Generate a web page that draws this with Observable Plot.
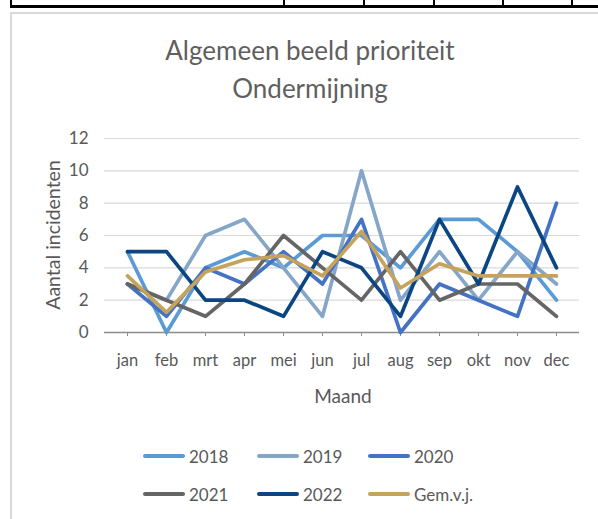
<!DOCTYPE html>
<html>
<head>
<meta charset="utf-8">
<script src="https://cdn.jsdelivr.net/npm/d3@7"></script>
<script src="https://cdn.jsdelivr.net/npm/@observablehq/plot@0.6"></script>
<style>
  html, body { margin: 0; padding: 0; background: #fff; }
  #page { position: relative; width: 598px; height: 519px; overflow: hidden; font-family: Lato, "Open Sans", sans-serif; color: #595959; }
  .blk { position: absolute; background: #000; }
  #box { position: absolute; left: 10px; top: 12px; width: 700px; height: 600px; border-left: 2px solid #d9d9d9; border-top: 2px solid #d9d9d9; box-sizing: border-box; }
  #title { position: absolute; left: 110px; width: 400px; top: 31px; text-align: center; font-size: 26px; line-height: 38px; color: #5f5f5f; font-weight: 400; }
  #ytitle { position: absolute; left: 52px; top: 235px; transform: translate(-50%, -50%) rotate(-90deg); font-size: 19.5px; white-space: nowrap; color: #595959; }
  #xtitle { position: absolute; left: 343px; top: 395px; transform: translate(-50%, -50%); font-size: 19px; color: #595959; }
  #chart { position: absolute; left: 0; top: 0; }
  #legend { position: absolute; left: 143px; top: 444px; display: grid; grid-template-columns: 114px 111px 120px; row-gap: 14px; }
  .item { display: flex; align-items: center; height: 24px; font-size: 17px; color: #595959; }
  .sw { width: 42px; height: 4px; border-radius: 2px; margin-right: 4px; }
</style>
</head>
<body>
<div id="page">
  <div class="blk" style="left:10px; top:5px; width:588px; height:3px;"></div>
  <div class="blk" style="left:10px; top:0px; width:2px; height:8px;"></div>
  <div class="blk" style="left:283px; top:0px; width:2px; height:8px;"></div>
  <div class="blk" style="left:363px; top:0px; width:2px; height:8px;"></div>
  <div class="blk" style="left:433px; top:0px; width:2px; height:8px;"></div>
  <div class="blk" style="left:502px; top:0px; width:2px; height:8px;"></div>
  <div class="blk" style="left:571px; top:0px; width:2px; height:8px;"></div>
  <div id="box"></div>
  <div id="title">Algemeen beeld prioriteit<br>Ondermijning</div>
  <div id="chart"></div>
  <div id="ytitle">Aantal incidenten</div>
  <div id="xtitle">Maand</div>
  <div id="legend"></div>
</div>
<script>
const months = ["jan","feb","mrt","apr","mei","jun","jul","aug","sep","okt","nov","dec"];
const seriesNames = ["2018","2019","2020","2021","2022","Gem.v.j."];
const v2018 = [5,0,4,5,4,6,6,4,7,7,5,2];
const v2019 = [3,2,6,7,4,1,10,2,5,2,5,3];
const v2020 = [3,1,4,3,5,3,7,0,3,2,1,8];
const v2021 = [3,2,1,3,6,4,2,5,2,3,3,1];
const v2022 = [5,5,2,2,1,5,4,1,7,3,9,4];
const vGem  = [3.5,1.25,3.75,4.5,4.75,3.5,6.25,2.75,4.25,3.5,3.5,3.5];
const yTicks = [0,2,4,6,8,10,12];
const seriesColors = ["#5B9BD5","#86A6C8","#4472C4","#656565","#0B4683","#C5A35C"];

const allValues = [v2018, v2019, v2020, v2021, v2022, vGem];
const data = [];
seriesNames.forEach((name, i) => {
  allValues[i].forEach((v, j) => data.push({series: name, month: months[j], value: v}));
});

const chart = Plot.plot({
  width: 598,
  height: 420,
  marginLeft: 104,
  marginRight: 19,
  marginTop: 138,
  marginBottom: 88,
  style: {fontFamily: "Lato, 'Open Sans', sans-serif", fontSize: "17px", color: "#595959", background: "transparent", overflow: "visible"},
  x: {type: "point", domain: months, padding: 0.5, label: null},
  y: {domain: [0, 12], label: null},
  color: {domain: seriesNames, range: seriesColors},
  marks: [
    Plot.gridY(yTicks, {stroke: "#d9d9d9", strokeOpacity: 1, strokeWidth: 1.2}),
    Plot.axisY(yTicks, {tickSize: 0, tickPadding: 16, fontSize: 17, label: null}),
    Plot.axisX({tickSize: 4, tickPadding: 18, fontSize: 16.5, stroke: "#8c8c8c", label: null}),
    Plot.ruleY([0], {stroke: "#8c8c8c", strokeWidth: 1.3}),
    Plot.line(data, {x: "month", y: "value", z: "series", stroke: "series", strokeWidth: 3.7, strokeLinejoin: "round", strokeLinecap: "round"})
  ]
});
document.getElementById("chart").appendChild(chart);

const legend = document.getElementById("legend");
seriesNames.forEach((name, i) => {
  const it = document.createElement("div");
  it.className = "item";
  const sw = document.createElement("span");
  sw.className = "sw";
  sw.style.background = seriesColors[i];
  const lb = document.createElement("span");
  lb.textContent = name;
  it.appendChild(sw);
  it.appendChild(lb);
  legend.appendChild(it);
});
</script>
</body>
</html>
